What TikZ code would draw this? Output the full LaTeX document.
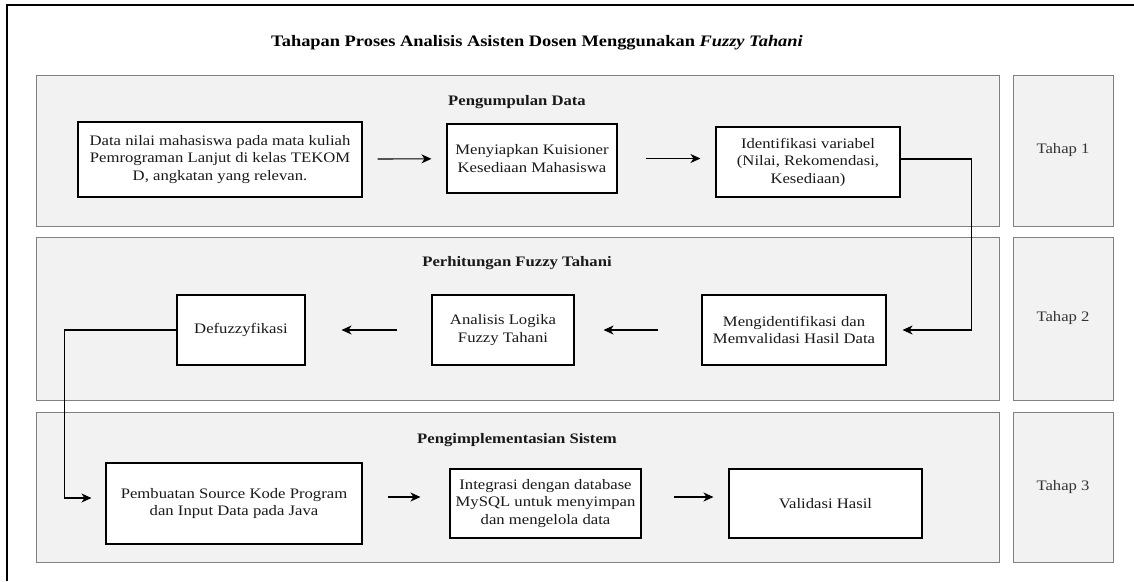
\documentclass[tikz,border=0pt]{standalone}
\usepackage{fontspec}
\setmainfont{Liberation Serif}[FakeStretch=1.15]
\usepackage{tikz}
\usetikzlibrary{arrows.meta}

\begin{document}
\begin{tikzpicture}[x=1pt,y=-1pt,->,>={Stealth[length=10pt,width=9pt,inset=3pt]},line width=1.1pt,
    font=\fontsize{14.5}{17.5}\selectfont,
    stage/.style={draw=black!50,fill=black!5,line width=0.9pt,inner sep=0pt,text=black!80},
    box/.style={draw=black,fill=white,align=center,inner sep=0pt,text=black!90},
    head/.style={font=\fontsize{14.5}{17.5}\selectfont\bfseries,text=black!90}]
    \useasboundingbox (0,0) rectangle (1134,581);
    \draw[-,line width=1.4pt] (7,581) -- (7,5) -- (1134,5);
    \node (title) at (537,43) [font=\fontsize{16}{19}\selectfont\bfseries] {Tahapan Proses Analisis Asisten Dosen Menggunakan \textit{Fuzzy Tahani}};
    \node (s1) at (517.5,150.5) [stage,minimum width=963pt,minimum height=151pt] {};
    \node (s2) at (517.5,318.5) [stage,minimum width=963pt,minimum height=163pt] {};
    \node (s3) at (517.5,487) [stage,minimum width=963pt,minimum height=150pt] {};
    \node (t1) at (1063,150.5) [stage,minimum width=100pt,minimum height=151pt] {Tahap 1};
    \node (t2) at (1063,318.5) [stage,minimum width=100pt,minimum height=163pt] {Tahap 2};
    \node (t3) at (1063,487) [stage,minimum width=100pt,minimum height=150pt] {Tahap 3};
    \node (h1) at (517,102) [head] {Pengumpulan Data};
    \node (h2) at (517,263) [head] {Perhitungan Fuzzy Tahani};
    \node (h3) at (517,440) [head] {Pengimplementasian Sistem};
    \node (1) at (220,159.5) [box,minimum width=284pt,minimum height=75pt] {Data nilai mahasiswa pada mata kuliah\\Pemrograman Lanjut di kelas TEKOM\\D, angkatan yang relevan.};
    \node (2) at (532,158.5) [box,minimum width=170pt,minimum height=69pt] {Menyiapkan Kuisioner\\Kesediaan Mahasiswa};
    \node (3) at (808,162) [box,minimum width=184pt,minimum height=70pt] {Identifikasi variabel\\(Nilai, Rekomendasi,\\Kesediaan)};
    \node (4) at (794,330) [box,minimum width=184pt,minimum height=70pt] {Mengidentifikasi dan\\Memvalidasi Hasil Data};
    \node (5) at (503,330) [box,minimum width=142pt,minimum height=70pt] {Analisis Logika\\Fuzzy Tahani};
    \node (6) at (241,330) [box,minimum width=128pt,minimum height=70pt] {Defuzzyfikasi};
    \node (7) at (234,503.5) [box,minimum width=256pt,minimum height=81pt] {Pembuatan Source Kode Program\\dan Input Data pada Java};
    \node (8) at (545.5,503.5) [box,minimum width=191pt,minimum height=69pt] {Integrasi dengan database\\MySQL untuk menyimpan\\dan mengelola data};
    \node (9) at (825.5,503.5) [box,minimum width=193pt,minimum height=69pt] {Validasi Hasil};
    \path
    (1) edge[shorten <=15pt,shorten >=15pt] (2)
    (2.east) edge[shorten <=28pt,shorten >=15pt] (2.east -| 3.west)
    (4) edge[shorten <=43pt,shorten >=29pt] (5)
    (5) edge[shorten <=34pt,shorten >=36pt] (6)
    ([yshift=6.5pt]7.east) edge[shorten <=25pt,shorten >=29pt] ([yshift=6.5pt]8.west)
    ([yshift=6.5pt]8.east) edge[shorten <=32pt,shorten >=15pt] ([yshift=6.5pt]9.west)
    ;
    \draw[shorten >=16pt] ([yshift=3pt]3.east) -- ++(71,0) |- (4.east);
    \draw[shorten >=14pt] (6.west) -- ++(-112,0) |- ([yshift=5.5pt]7.west);
  \end{tikzpicture}
\end{document}
